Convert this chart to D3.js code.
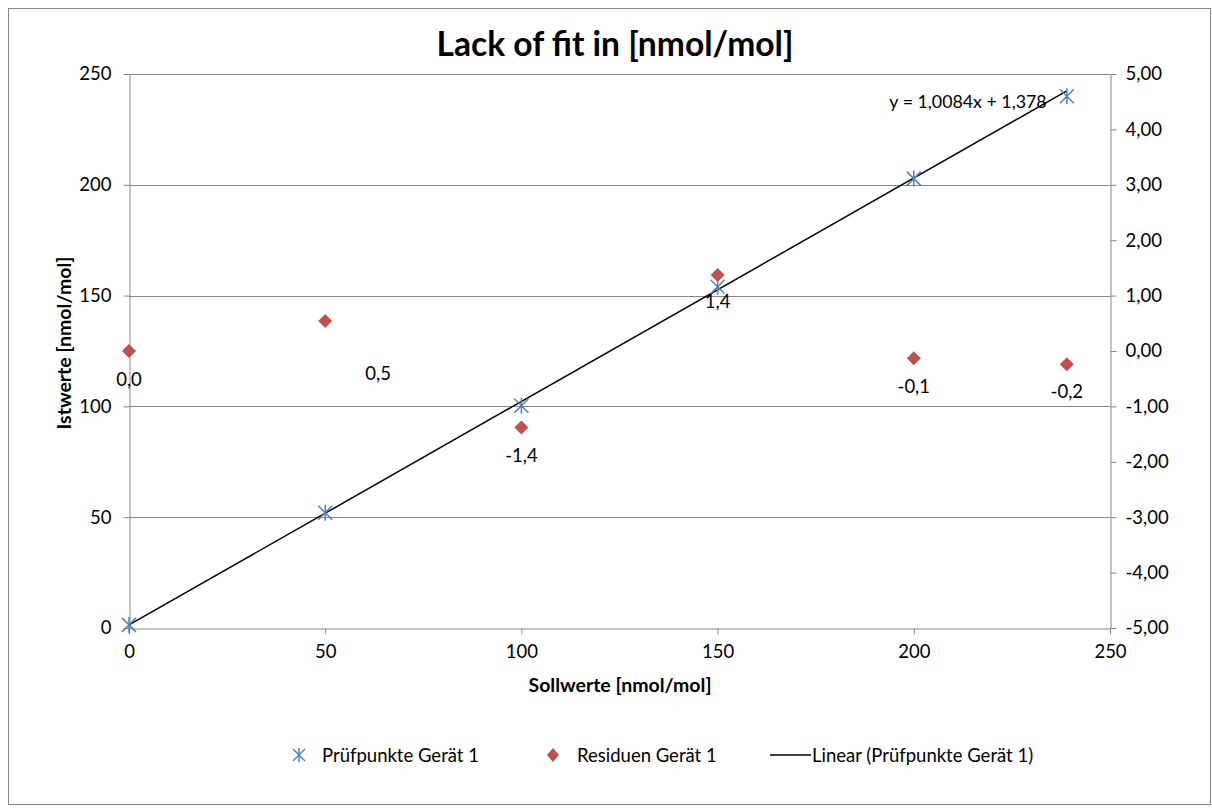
<!DOCTYPE html>
<html>
<head>
<meta charset="utf-8">
<script src="https://cdn.jsdelivr.net/npm/d3@7"></script>
<style>
  body { margin: 0; background: #fff; }
  text { font-family: Lato, "Open Sans", sans-serif; fill: #000; }
  .axis path, .axis line { stroke: #868686; }
  .axis text { font-size: 18.5px; }
</style>
</head>
<body>
<div id="chart"></div>
<script>
// Prüfpunkte (Sollwert, Istwert)
var sollwerte = [0, 50, 100, 150, 200, 239];
var istwerte = [1.4, 52, 100.3, 154, 202.8, 240];
// Residuen (rechte Achse)
var residuen = [0.0, 0.54, -1.38, 1.37, -0.13, -0.24];
var residuenLabels = ["0,0", "0,5", "-1,4", "1,4", "-0,1", "-0,2"];
// label offsets relative to point (Excel puts them below, one was moved by hand)
var labelDx = [0, 53, 0, 0, 0, 0];
var labelDy = [35, 59, 35, 33, 35, 34];
// Trendlinie
var slope = 1.0084, intercept = 1.378;
var leftTicks = [0, 50, 100, 150, 200, 250];
var rightTicks = [-5, -4, -3, -2, -1, 0, 1, 2, 3, 4, 5];
var xTicks = [0, 50, 100, 150, 200, 250];

var width = 1212, height = 810;
var padding = { top: 74, right: 102, bottom: 182, left: 129 };

var svg = d3.select("#chart")
    .append("svg")
    .attr("width", width)
    .attr("height", height);

// outer border
svg.append("rect")
    .attr("x", 8.5).attr("y", 8.5)
    .attr("width", 1202).attr("height", 796)
    .attr("fill", "#fff")
    .attr("stroke", "#868686");

var xScale = d3.scaleLinear()
    .domain([0, 250])
    .range([padding.left, width - padding.right]);
var yScale = d3.scaleLinear()
    .domain([0, 250])
    .range([height - padding.bottom, padding.top]);
var y2Scale = d3.scaleLinear()
    .domain([-5, 5])
    .range([height - padding.bottom, padding.top]);

// grid lines
svg.append("g")
    .selectAll("line")
    .data(leftTicks.filter(function(d){ return d > 0; }))
    .enter()
    .append("line")
    .attr("x1", xScale(0))
    .attr("x2", xScale(250))
    .attr("y1", function(d){ return Math.round(yScale(d)) + 0.5; })
    .attr("y2", function(d){ return Math.round(yScale(d)) + 0.5; })
    .attr("stroke", "#868686")
    .attr("stroke-width", 1);

// axes
svg.append("g")
    .attr("class", "axis")
    .attr("transform", "translate(" + (xScale(0) + 0.5) + ",0)")
    .call(d3.axisLeft(yScale).tickValues(leftTicks).tickSize(6).tickPadding(12).tickSizeOuter(0));

svg.append("g")
    .attr("class", "axis")
    .attr("transform", "translate(" + (xScale(250) + 0.5) + ",0)")
    .call(d3.axisRight(y2Scale).tickValues(rightTicks).tickSize(6).tickPadding(9).tickSizeOuter(0)
        .tickFormat(function(d){ return d3.format(".2f")(d).replace(".", ",").replace("−", "-"); }));

svg.append("g")
    .attr("class", "axis")
    .attr("transform", "translate(0," + (yScale(0) + 0.5) + ")")
    .call(d3.axisBottom(xScale).tickValues(xTicks).tickSize(6).tickPadding(10).tickSizeOuter(0));

// trend line
var linePath = d3.line()
    .x(function(d){ return xScale(d); })
    .y(function(d){ return yScale(slope * d + intercept); });
svg.append("path")
    .attr("d", linePath([0, d3.max(sollwerte)]))
    .attr("fill", "none")
    .attr("stroke", "#000")
    .attr("stroke-width", 1.5);

// Prüfpunkte asterisks
var star = svg.append("g")
    .selectAll("g")
    .data(sollwerte)
    .enter()
    .append("g")
    .attr("transform", function(d, i){
        return "translate(" + xScale(d) + "," + yScale(istwerte[i]) + ")";
    })
    .attr("stroke", "#4F81BD")
    .attr("stroke-width", 1.5);
star.append("line").attr("x1", -7).attr("y1", -7).attr("x2", 7).attr("y2", 7);
star.append("line").attr("x1", -7).attr("y1", 7).attr("x2", 7).attr("y2", -7);
star.append("line").attr("x1", 0).attr("y1", -8).attr("x2", 0).attr("y2", 8);

// Residuen diamonds
svg.append("g")
    .selectAll("path")
    .data(sollwerte)
    .enter()
    .append("path")
    .attr("d", "M0,-7L7,0L0,7L-7,0Z")
    .attr("fill", "#C0504D")
    .attr("transform", function(d, i){
        return "translate(" + xScale(d) + "," + y2Scale(residuen[i]) + ")";
    });

svg.append("g")
    .selectAll("text")
    .data(sollwerte)
    .enter()
    .append("text")
    .attr("x", function(d, i){ return xScale(d) + labelDx[i]; })
    .attr("y", function(d, i){ return y2Scale(residuen[i]) + labelDy[i]; })
    .attr("text-anchor", "middle")
    .attr("font-size", 18.5)
    .text(function(d, i){ return residuenLabels[i]; });

// equation
svg.append("text")
    .attr("x", 968)
    .attr("y", 108)
    .attr("text-anchor", "middle")
    .attr("font-size", 17.8)
    .text("y = 1,0084x + 1,378");

// titles
svg.append("text")
    .attr("x", 615)
    .attr("y", 56)
    .attr("text-anchor", "middle")
    .attr("font-size", 33.6)
    .attr("font-weight", "bold")
    .text("Lack of fit in [nmol/mol]");

svg.append("text")
    .attr("x", 620)
    .attr("y", 692)
    .attr("text-anchor", "middle")
    .attr("font-size", 19.5)
    .attr("font-weight", "bold")
    .text("Sollwerte [nmol/mol]");

svg.append("text")
    .attr("transform", "translate(71,343) rotate(-90)")
    .attr("text-anchor", "middle")
    .attr("font-size", 19.5)
    .attr("font-weight", "bold")
    .text("Istwerte [nmol/mol]");

// legend
var legend = svg.append("g").attr("transform", "translate(0,755)");
var ls = legend.append("g").attr("transform", "translate(299,0)")
    .attr("stroke", "#4F81BD").attr("stroke-width", 1.5);
ls.append("line").attr("x1", -6).attr("y1", -6).attr("x2", 6).attr("y2", 6);
ls.append("line").attr("x1", -6).attr("y1", 6).attr("x2", 6).attr("y2", -6);
ls.append("line").attr("x1", 0).attr("y1", -7).attr("x2", 0).attr("y2", 7);
legend.append("text").attr("x", 322).attr("y", 7).attr("font-size", 18.5).text("Prüfpunkte Gerät 1");
legend.append("path").attr("d", "M0,-7L6,0L0,7L-6,0Z").attr("fill", "#C0504D")
    .attr("transform", "translate(553,0)");
legend.append("text").attr("x", 577).attr("y", 7).attr("font-size", 18.5).text("Residuen Gerät 1");
legend.append("line").attr("x1", 770).attr("x2", 811).attr("y1", 0).attr("y2", 0)
    .attr("stroke", "#000").attr("stroke-width", 1.5);
legend.append("text").attr("x", 812).attr("y", 7).attr("font-size", 18.5).text("Linear (Prüfpunkte Gerät 1)");
</script>
</body>
</html>
